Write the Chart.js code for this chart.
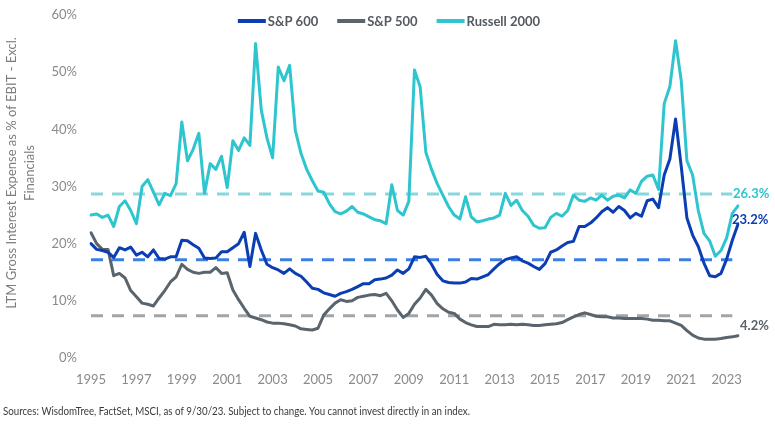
<!DOCTYPE html>
<html>
<head>
<meta charset="utf-8">
<script src="https://cdn.jsdelivr.net/npm/chart.js@4.4.0/dist/chart.umd.min.js"></script>
<style>
html,body{margin:0;padding:0;background:#ffffff;}
#wrap{width:775px;height:427px;position:relative;}
</style>
</head>
<body>
<div id="wrap"><canvas id="c" width="775" height="427"></canvas></div>
<script>
// ---- categories: quarterly, 1995 Q1 .. 2023 Q3 ----
const quarters = [];
for (let y = 1995; y <= 2023; y++) for (let q = 1; q <= 4; q++) quarters.push(y + ' Q' + q);
quarters.length = 115;

const yearTicks = ['1995','1997','1999','2001','2003','2005','2007','2009','2011','2013','2015','2017','2019','2021','2023'];

// ---- series (% of EBIT) ----
const sp600 = [
  20.0,19.0,18.8,18.5,17.6,19.3,18.9,19.4,18.0,18.5,17.7,18.9,17.4,17.3,17.7,17.7,
  20.6,20.5,19.8,19.2,17.5,17.4,17.5,18.6,18.6,19.3,20.0,22.0,16.0,21.8,18.9,16.4,
  15.8,15.4,14.8,15.6,14.8,14.3,13.3,12.2,12.0,11.4,11.1,10.8,11.3,11.6,12.0,12.5,
  13.0,13.0,13.7,13.8,14.0,14.5,15.4,14.8,15.6,17.7,17.6,17.8,16.4,14.6,13.5,13.2,
  13.1,13.1,13.3,13.9,13.8,14.2,14.6,15.6,16.5,17.2,17.5,17.7,17.0,16.6,16.0,15.5,
  16.5,18.5,18.9,19.6,20.2,20.4,23.0,23.0,23.6,24.5,25.6,26.3,25.5,26.5,25.8,24.5,
  25.3,24.8,27.5,27.8,26.3,32.0,34.8,41.8,33.5,24.5,21.5,19.5,16.6,14.4,14.2,14.8,
  17.3,20.6,23.4
];
const sp500 = [
  21.9,20.0,19.0,19.0,14.4,14.8,14.0,11.8,10.7,9.6,9.4,9.1,10.5,11.8,13.3,14.2,
  16.4,15.5,15.0,14.8,15.0,15.0,15.8,14.8,14.9,11.9,10.2,8.7,7.3,7.0,6.7,6.3,
  6.1,6.1,6.0,5.8,5.6,5.1,5.0,4.9,5.2,7.5,8.6,9.6,10.2,9.9,10.0,10.6,
  10.8,11.0,11.1,10.9,11.3,10.0,8.4,7.1,7.8,9.4,10.5,12.0,11.0,9.5,8.6,8.0,
  7.8,6.8,6.2,5.8,5.5,5.5,5.5,5.9,5.8,5.8,5.9,5.8,5.9,5.8,5.7,5.7,
  5.8,5.9,6.0,6.2,6.7,7.2,7.6,7.9,7.6,7.3,7.2,7.2,7.0,7.0,6.9,6.9,
  6.9,6.9,6.8,6.6,6.6,6.5,6.5,6.1,5.7,4.8,4.0,3.5,3.3,3.3,3.3,3.4,
  3.6,3.7,3.9
];
const russell2000 = [
  25.0,25.2,24.6,25.0,23.0,26.5,27.5,25.8,23.5,30.0,31.2,29.0,26.8,28.8,28.4,30.5,
  41.3,34.5,36.5,39.3,28.8,34.0,33.0,35.3,29.8,38.0,36.3,38.5,37.2,55.0,43.4,38.5,
  35.0,50.9,48.5,51.2,39.8,35.8,33.0,31.0,29.2,29.0,27.0,25.6,25.2,25.7,26.5,25.5,
  25.2,24.7,24.2,24.0,23.5,30.3,25.8,25.0,27.4,50.4,47.4,36.0,33.0,30.5,28.5,26.5,
  25.0,24.3,28.2,24.7,23.8,24.0,24.3,24.5,25.0,28.8,26.7,27.6,25.8,24.8,23.2,22.7,
  22.8,24.6,25.3,24.8,25.8,28.5,27.6,27.4,28.0,27.6,28.5,27.6,28.3,28.5,28.0,29.4,
  28.8,30.9,31.8,32.0,29.5,44.5,47.5,55.5,48.5,34.5,32.0,25.8,21.8,20.5,17.8,18.8,
  21.0,25.3,26.6
];

// long-run averages (dashed lines)
const avgRussell = 28.7;
const avgSp600 = 17.2;
const avgSp500 = 7.4;

const endLabels = ['26.3%', '23.2%', '4.2%'];

const C600 = '#0b3db3', C500 = '#5a646c', CRUT = '#2fc5cf';
const C600d = '#3b7fe5', C500d = '#a0a5a9', CRUTd = '#86d8dc';

Chart.defaults.font.family = 'Lato, "Open Sans", sans-serif';

const avgLine = v => quarters.slice(0, -1).map(() => v);

const lineDs = (label, data, color) => ({
  label, data, borderColor: color, backgroundColor: color, borderWidth: 3,
  pointRadius: 0, tension: 0, fill: false, borderJoinStyle: 'round', borderCapStyle: 'round'
});
const dashDs = (label, data, color) => ({
  label, data, borderColor: color, backgroundColor: color, borderWidth: 3,
  borderDash: [12, 9], pointRadius: 0, tension: 0, fill: false, isAvg: true
});

const extras = {
  id: 'extras',
  afterDraw(chart) {
    const ctx = chart.ctx;
    const xs = chart.scales.x, ys = chart.scales.y;
    ctx.save();
    // legend
    const items = [['S&P 600', C600], ['S&P 500', C500], ['Russell 2000', CRUT]];
    ctx.font = 'bold 13px Lato, sans-serif';
    const lineLen = 28, gap = 2, spacing = 19;
    let total = 0;
    items.forEach((it, i) => { total += lineLen + gap + ctx.measureText(it[0]).width + (i ? spacing : 0); });
    let x = 389 - total / 2;
    const ly = 21;
    items.forEach(it => {
      ctx.strokeStyle = it[1]; ctx.lineWidth = 4; ctx.lineCap = 'butt';
      ctx.beginPath(); ctx.moveTo(x, ly); ctx.lineTo(x + lineLen, ly); ctx.stroke();
      x += lineLen + gap;
      ctx.fillStyle = '#555a60'; ctx.textBaseline = 'middle'; ctx.textAlign = 'left';
      ctx.fillText(it[0], x, ly + 1);
      x += ctx.measureText(it[0]).width + spacing;
    });
    // end labels
    const lastI = quarters.length - 1;
    ctx.font = 'bold 13px Lato, sans-serif';
    ctx.textBaseline = 'middle'; ctx.textAlign = 'left';
    ctx.fillStyle = CRUT;
    ctx.fillText(endLabels[0], xs.getPixelForValue(lastI) - 5, ys.getPixelForValue(avgRussell));
    ctx.fillStyle = C600;
    ctx.fillText(endLabels[1], xs.getPixelForValue(lastI) - 6, ys.getPixelForValue(sp600[lastI]) - 4);
    ctx.fillStyle = C500;
    ctx.fillText(endLabels[2], xs.getPixelForValue(lastI) + 2, ys.getPixelForValue(sp500[lastI]) - 10);
    // y title
    const cy = 173;
    ctx.fillStyle = '#7d7d7d';
    ctx.font = '13px Lato, sans-serif';
    ctx.textAlign = 'center'; ctx.textBaseline = 'middle';
    const t = ['LTM Gross Interest Expense as % of EBIT - Excl.', 'Financials'];
    [[12, t[0]], [30, t[1]]].forEach(([tx, s]) => {
      ctx.save(); ctx.translate(tx, cy); ctx.rotate(-Math.PI / 2); ctx.fillText(s, 0, 0); ctx.restore();
    });
    // footer
    const foot = 'Sources: WisdomTree, FactSet, MSCI, as of 9/30/23. Subject to change. You cannot invest directly in an index.';
    ctx.font = '11px Lato, sans-serif';
    ctx.fillStyle = '#3a3a3a';
    ctx.textAlign = 'left'; ctx.textBaseline = 'middle';
    const w = ctx.measureText(foot).width;
    const target = 467;
    ctx.save(); ctx.translate(3, 411); ctx.scale(target / w, 1); ctx.fillText(foot, 0, 0); ctx.restore();
    ctx.restore();
  }
};

new Chart(document.getElementById('c'), {
  type: 'line',
  data: {
    labels: quarters,
    datasets: [
      lineDs('S&P 600', sp600, C600),
      lineDs('Russell 2000', russell2000, CRUT),
      lineDs('S&P 500', sp500, C500),
      dashDs('S&P 600 avg', avgLine(avgSp600), C600d),
      dashDs('Russell 2000 avg', avgLine(avgRussell), CRUTd),
      dashDs('S&P 500 avg', avgLine(avgSp500), C500d)
    ]
  },
  options: {
    responsive: false,
    animation: false,
    devicePixelRatio: 1,
    layout: { padding: { left: 0, right: 37, top: 15, bottom: 34 } },
    plugins: { legend: { display: false }, tooltip: { enabled: false }, title: { display: false } },
    scales: {
      x: {
        type: 'category',
        grid: { display: false, drawTicks: false },
        border: { display: false },
        ticks: {
          autoSkip: false, maxRotation: 0, minRotation: 0, padding: 14,
          color: '#8a8a8a', font: { size: 13 },
          callback: function (v) {
            const lab = this.getLabelForValue(v);
            const yr = lab.slice(0, 4);
            return (lab.endsWith('Q1') && yearTicks.includes(yr)) ? yr : '';
          }
        },
        afterFit: s => { s.height = 35; s.paddingLeft = 0; s.paddingRight = 0; }
      },
      y: {
        min: 0, max: 60,
        grid: { display: false, drawTicks: false },
        border: { display: false },
        ticks: { stepSize: 10, padding: 14, color: '#8a8a8a', font: { size: 13 }, callback: v => v + '%' },
        afterFit: s => { s.width = 91; s.paddingTop = 0; s.paddingBottom = 0; }
      }
    }
  },
  plugins: [extras]
});
</script>
</body>
</html>
